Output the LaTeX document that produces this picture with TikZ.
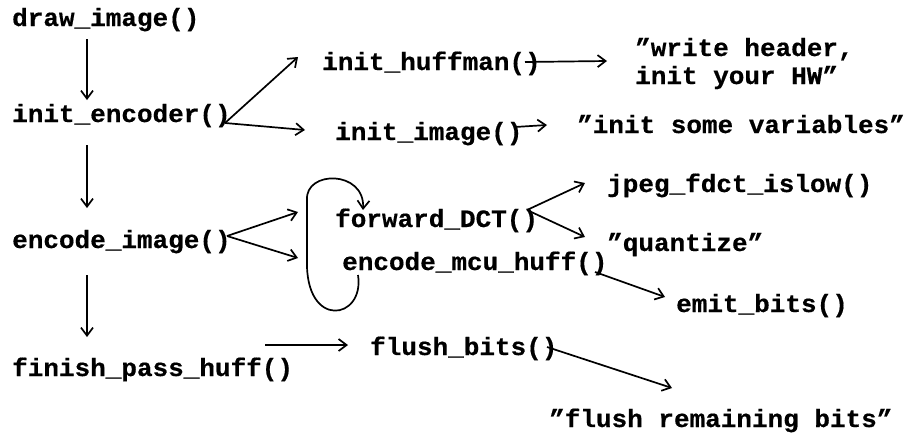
\documentclass[tikz,border=0pt]{standalone}
\usepackage{fontspec}
\newfontfamily\codefont{Liberation Mono}[FakeStretch=1.04, FakeBold=0.5]
\usetikzlibrary{arrows.meta}

\tikzset{
  code/.style={anchor=base west, inner sep=0pt,
    font=\codefont\bfseries\fontsize{25}{28}\selectfont},
  call/.style={line width=1.7pt, -{Straight Barb[length=8pt,width=12pt]}},
}

\begin{document}
\begin{tikzpicture}[x=1pt, y=-1pt]
  \useasboundingbox (0,0) rectangle (908,434);

  % call chain on the left
  \node[code] (draw)  at (12,26)  {draw\_image()};
  \node[code] (ienc)  at (12,122) {init\_encoder()};
  \node[code] (eimg)  at (12,248) {encode\_image()};
  \node[code] (fin)   at (12,376) {finish\_pass\_huff()};

  % callees
  \node[code] (ihuff) at (322,70)  {init\_huffman()};
  \node[code] (iimg)  at (335,140) {init\_image()};
  \node[code] (fdct)  at (335,227) {forward\_DCT()};
  \node[code] (mcu)   at (342,270) {encode\_mcu\_huff()};
  \node[code] (fbits) at (370,355) {flush\_bits()};

  % leaves
  \node[code] (hw1)   at (635,56)  {”write header,};
  \node[code] (hw2)   at (635,84)  {init your HW”};
  \node[code] (some)  at (577,133) {”init some variables”};
  \node[code] (jpeg)  at (607,192) {jpeg\_fdct\_islow()};
  \node[code] (quant) at (607,251) {”quantize”};
  \node[code] (emit)  at (676,312) {emit\_bits()};
  \node[code] (rem)   at (549,427) {”flush remaining bits”};

  % main sequence
  \draw[call] ([shift={(75,13)}]draw.base west) -- ([shift={(75,-22)}]ienc.base west);
  \draw[call] ([shift={(75,23)}]ienc.base west) -- ([shift={(75,-40)}]eimg.base west);
  \draw[call] ([shift={(75,27)}]eimg.base west) -- ([shift={(75,-39)}]fin.base west);

  % init_encoder
  \draw[call] ([shift={(213,1)}]ienc.base west) -- ([shift={(-24,-13)}]ihuff.base west);
  \draw[call] ([shift={(213,1)}]ienc.base west) -- ([shift={(-30,-10)}]iimg.base west);
  \draw[call] ([shift={(203,-8)}]ihuff.base west) -- ([shift={(-28,5)}]hw1.base west);
  \draw[call] ([shift={(180,-13)}]iimg.base west) -- ([shift={(-30,-8)}]some.base west);

  % encode_image
  \draw[call] ([shift={(215,-12)}]eimg.base west) -- ([shift={(-37,-15)}]fdct.base west);
  \draw[call] ([shift={(215,-12)}]eimg.base west) -- ([shift={(-44,-12)}]mcu.base west);
  \draw[call] ([shift={(192,-17)}]fdct.base west) -- ([shift={(-22,-9)}]jpeg.base west);
  \draw[call] ([shift={(192,-17)}]fdct.base west) -- ([shift={(-22,-14)}]quant.base west);
  \draw[call] ([shift={(253,2)}]mcu.base west) -- ([shift={(-11,-15)}]emit.base west);

  % per-block loop
  \draw[call] ([shift={(16,5)}]mcu.base west)
    .. controls (365,320) and (305,330) .. (307,260)
    -- (307,200)
    .. controls (305,170) and (365,170) .. ([shift={(28,-17)}]fdct.base west);

  % finish_pass_huff
  \draw[call] ([shift={(253,-31)}]fin.base west) -- ([shift={(-22,-10)}]fbits.base west);
  \draw[call] ([shift={(177,-8)}]fbits.base west) -- ([shift={(123,-39)}]rem.base west);
\end{tikzpicture}
\end{document}
